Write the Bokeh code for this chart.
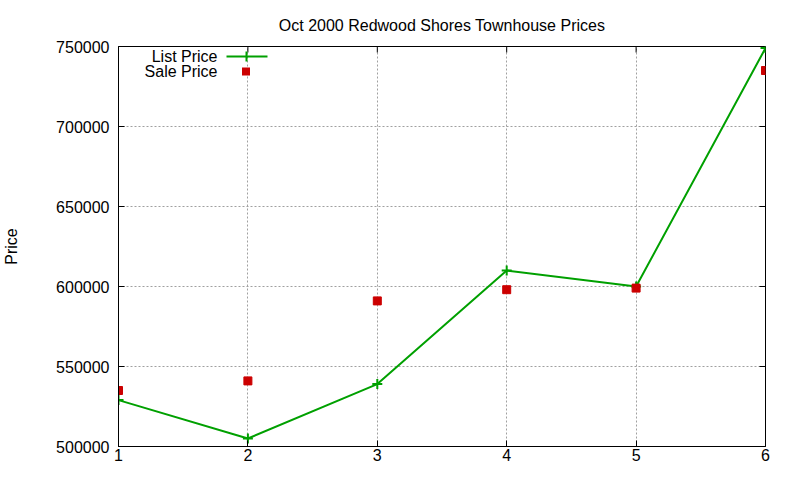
from bokeh.plotting import figure
from bokeh.models import Range1d, FixedTicker, Label, BoxAnnotation, ColumnDataSource
from bokeh.embed import file_html
from bokeh.resources import INLINE

# ---- data ----
house = [1, 2, 3, 4, 5, 6]
list_price = [529000, 505000, 539000, 610000, 600000, 749000]
sale_price = [535000, 541000, 591000, 598000, 599000, 735000]
x_ticks = [1, 2, 3, 4, 5, 6]
y_ticks = [500000, 550000, 600000, 650000, 700000, 750000]
title_text = "Oct 2000 Redwood Shores Townhouse Prices"
y_label = "Price"
series_names = ["List Price", "Sale Price"]

GREEN = "#00a000"
RED = "#cc0000"
FONT = "Liberation Sans"
FS = "16px"

W, H = 784, 464
BL, BR, BT, BB = 118, 19, 46, 18
FW, FH = W - BL - BR, H - BT - BB
X0, X1 = 1, 6
Y0, Y1 = 500000, 750000

src = ColumnDataSource(dict(x=house, lp=list_price, sp=sale_price))

p = figure(width=W, height=H, output_backend="svg", toolbar_location=None,
           x_range=Range1d(X0, X1), y_range=Range1d(Y0, Y1),
           min_border_left=BL, min_border_right=BR, min_border_top=BT,
           min_border_bottom=BB, title=title_text)

p.title.align = "center"
p.title.text_font = FONT
p.title.text_font_size = FS
p.title.text_font_style = "normal"
p.title.text_color = "black"
p.title.standoff = 25

p.outline_line_color = "black"
p.outline_line_width = 1
p.background_fill_color = "white"
p.border_fill_color = "white"

for ax in (p.xaxis[0], p.yaxis[0]):
    ax.major_tick_in = 6
    ax.major_tick_out = 0
    ax.minor_tick_in = 0
    ax.minor_tick_out = 0
    ax.major_label_text_font = FONT
    ax.major_label_text_font_size = FS
    ax.major_label_text_color = "black"
    ax.axis_line_color = "black"
    ax.major_tick_line_color = "black"

p.xaxis[0].ticker = FixedTicker(ticks=x_ticks)
p.yaxis[0].ticker = FixedTicker(ticks=y_ticks)
p.yaxis[0].formatter.use_scientific = False
p.xaxis[0].major_label_standoff = 2
p.yaxis[0].major_label_standoff = 9
p.yaxis[0].axis_label = y_label
p.yaxis[0].axis_label_text_font = FONT
p.yaxis[0].axis_label_text_font_size = FS
p.yaxis[0].axis_label_text_font_style = "normal"
p.yaxis[0].axis_label_text_color = "black"
p.yaxis[0].axis_label_standoff = 33

p.grid.grid_line_color = "#a0a0a0"
p.grid.grid_line_dash = "2 2"
p.grid.grid_line_width = 1
p.xgrid.ticker = FixedTicker(ticks=x_ticks)
p.ygrid.ticker = FixedTicker(ticks=y_ticks)

# mirrored inward ticks on the right and top borders (gnuplot style)
tick_px = 6
dx = (X1 - X0) * tick_px / FW
dy = (Y1 - Y0) * tick_px / FH
p.segment(x0=[X1] * len(y_ticks), y0=y_ticks, x1=[X1 - dx] * len(y_ticks), y1=y_ticks,
          line_color="black", line_width=1)
p.segment(x0=x_ticks, y0=[Y1] * len(x_ticks), x1=x_ticks, y1=[Y1 - dy] * len(x_ticks),
          line_color="black", line_width=1)

# series
p.line("x", "lp", source=src, line_color=GREEN, line_width=2)
p.scatter("x", "lp", source=src, marker="cross", size=10, line_color=GREEN, line_width=2)
p.scatter("x", "sp", source=src, marker="square", size=8, fill_color=RED, line_color=RED)

# manual gnuplot-style key (label left of sample)
ky1, ky2 = FH - 10, FH - 25
key_font = dict(text_font=FONT, text_font_size=FS, text_align="right",
                text_baseline="middle", text_color="black")
p.add_layout(Label(x=99, y=ky1, x_units="screen", y_units="screen",
                   text=series_names[0], **key_font))
p.add_layout(Label(x=99, y=ky2, x_units="screen", y_units="screen",
                   text=series_names[1], **key_font))
box = dict(left_units="screen", right_units="screen", top_units="screen",
           bottom_units="screen", line_alpha=0, level="overlay")
p.add_layout(BoxAnnotation(left=108, right=149, bottom=ky1 - 1, top=ky1 + 1,
                           fill_color=GREEN, fill_alpha=1, **box))
p.add_layout(BoxAnnotation(left=127, right=129, bottom=ky1 - 5, top=ky1 + 5,
                           fill_color=GREEN, fill_alpha=1, **box))
p.add_layout(BoxAnnotation(left=123.5, right=131.5, bottom=ky2 - 4, top=ky2 + 4,
                           fill_color=RED, fill_alpha=1, **box))

open("out.html", "w").write(file_html(p, INLINE))
